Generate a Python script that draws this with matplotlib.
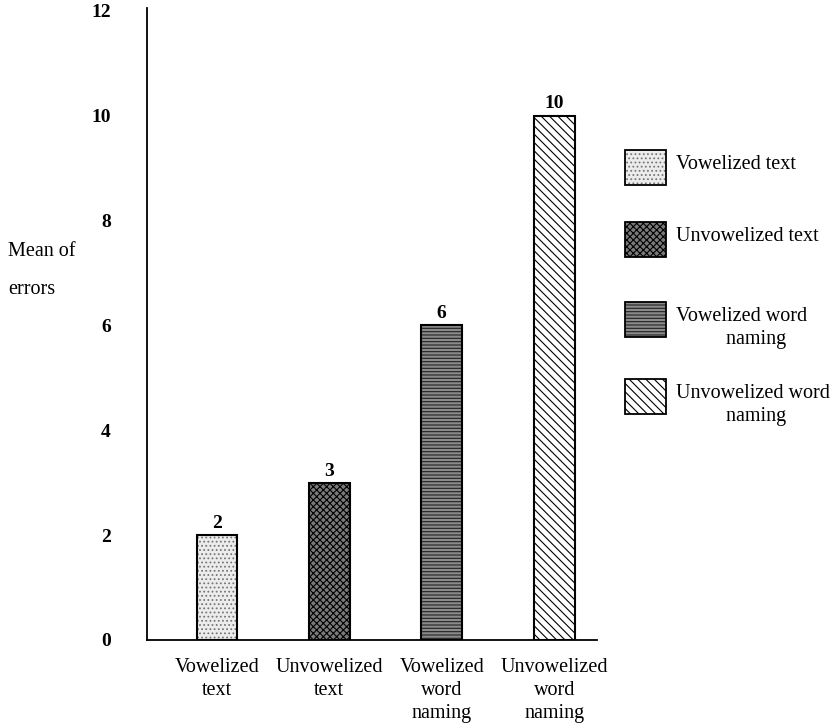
import matplotlib.pyplot as plt
from matplotlib.patches import Rectangle

categories = ["Vowelized\ntext", "Unvowelized\ntext", "Vowelized\nword\nnaming", "Unvowelized\nword\nnaming"]
legend_labels = ["Vowelized text", "Unvowelized text", "Vowelized word\n          naming", "Unvowelized word\n          naming"]
values = [2, 3, 6, 10]
yticks = [0, 2, 4, 6, 8, 10, 12]

# fill styles imitating the print screens
faces = ["#ececec", "#7a7a7a", "#8a8a8a", "white"]
hatches = ["....", "xxxxx", "-----", "\\\\\\\\"]
hatch_cols = ["#777777", "black", "#222222", "black"]

plt.rcParams["font.family"] = ["Liberation Serif", "DejaVu Serif"]
plt.rcParams["hatch.linewidth"] = 0.8

fig = plt.figure(figsize=(8.4, 7.28), dpi=100)
ax = fig.add_axes([147 / 840, 1 - 640 / 728, (597 - 147) / 840, (640 - 8) / 728])

xs = [0, 1, 2, 3]
for x, v, fc, h, hc in zip(xs, values, faces, hatches, hatch_cols):
    ax.bar(x, v, width=0.36, color=fc, edgecolor=hc, hatch=h, linewidth=0)
    ax.bar(x, v, width=0.36, fill=False, edgecolor="black", linewidth=1.5)
    ax.text(x, v + 0.06, str(v), ha="center", va="bottom", fontsize=14, fontweight="bold")

ax.set_xlim(-0.62, 3.38)
ax.set_ylim(0, 12.05)
ax.set_yticks(yticks)
ax.set_yticklabels([str(t) for t in yticks], fontsize=14, fontweight="bold")
ax.tick_params(axis="y", length=0, pad=26)
ax.set_xticks(xs)
ax.set_xticklabels(categories, fontsize=14.5, linespacing=1.3, va="top")
ax.tick_params(axis="x", length=0, pad=13)
for s in ["top", "right"]:
    ax.spines[s].set_visible(False)
ax.spines["left"].set_linewidth(1.3)
ax.spines["bottom"].set_linewidth(1.3)

fig.text(8 / 840, 1 - 252 / 728, "Mean of", fontsize=14.5, va="center")
fig.text(8 / 840, 1 - 290 / 728, "errors", fontsize=14.5, va="center")

# legend drawn by hand
box_y = [150, 222, 302, 379]
for y, fc, h, hc, lab in zip(box_y, faces, hatches, hatch_cols, legend_labels):
    r = Rectangle((625 / 840, 1 - (y + 35) / 728), 41 / 840, 35 / 728, transform=fig.transFigure,
                  facecolor=fc, edgecolor=hc, hatch=h, linewidth=0)
    fig.add_artist(r)
    fig.add_artist(Rectangle((625 / 840, 1 - (y + 35) / 728), 41 / 840, 35 / 728, transform=fig.transFigure,
                             fill=False, edgecolor="black", linewidth=1.3))
    fig.text(676 / 840, 1 - (y + 5) / 728, lab, fontsize=14.5, va="top", linespacing=1.25)

fig.savefig("out.png")
